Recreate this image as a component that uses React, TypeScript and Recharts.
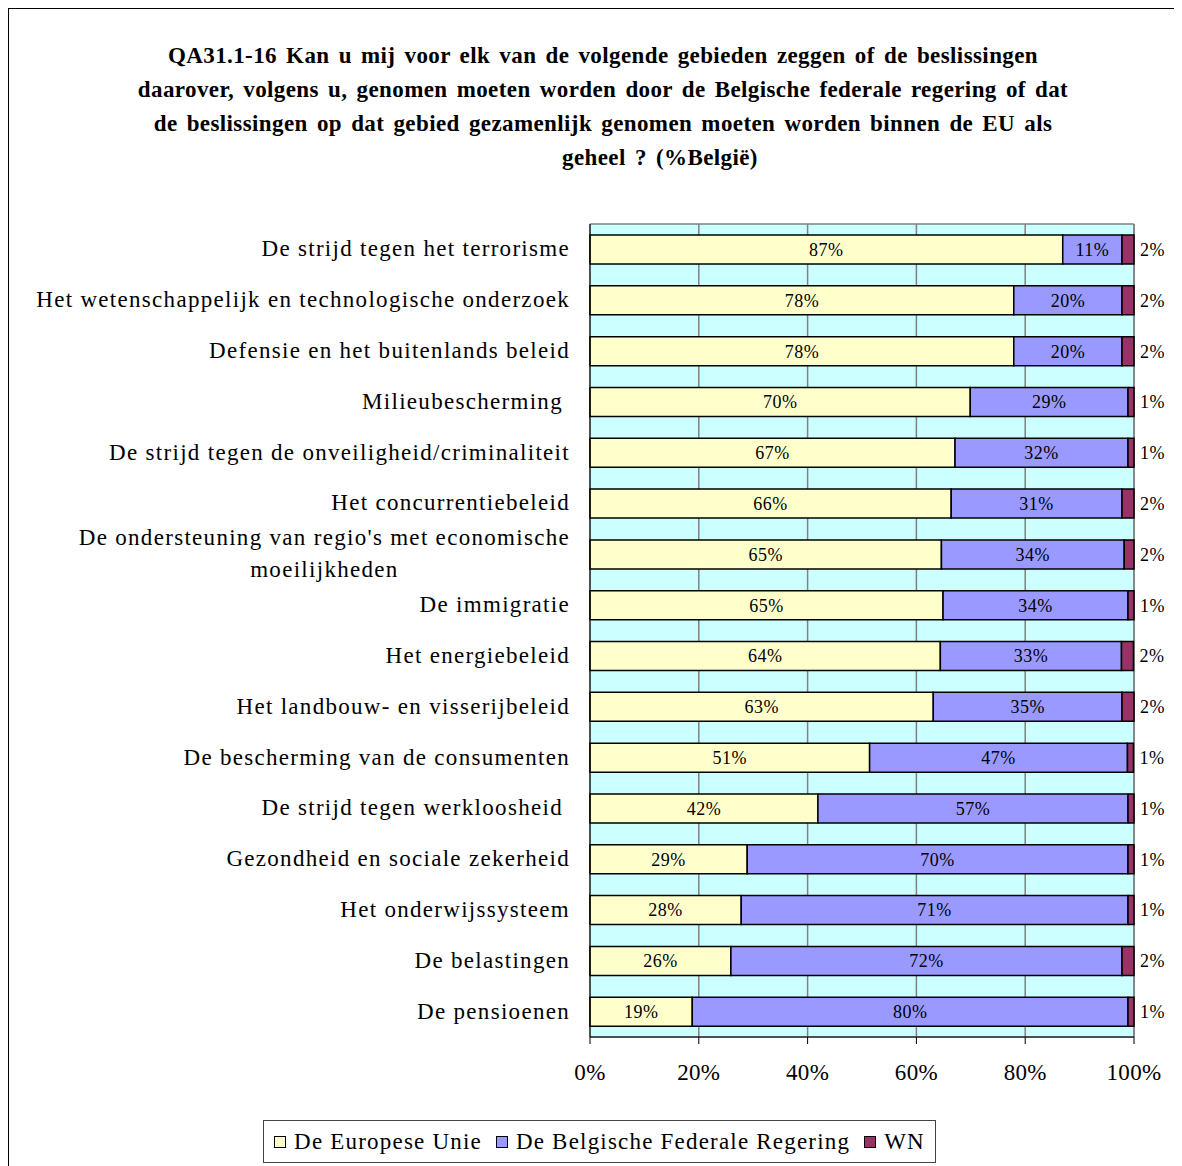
import { Bar, BarChart, CartesianGrid, LabelList, XAxis, YAxis } from "recharts"

const titleLines = [
  "QA31.1-16 Kan u mij voor elk van de volgende gebieden zeggen of de beslissingen",
  "daarover, volgens u, genomen moeten worden door de Belgische federale regering of dat",
  "de beslissingen op dat gebied gezamenlijk genomen moeten worden binnen de EU als",
  "geheel ? (%België)",
]

const categories = [
  "De strijd tegen het terrorisme",
  "Het wetenschappelijk en technologische onderzoek",
  "Defensie en het buitenlands beleid",
  "Milieubescherming ",
  "De strijd tegen de onveiligheid/criminaliteit",
  "Het concurrentiebeleid",
  "De ondersteuning van regio's met economische moeilijkheden",
  "De immigratie",
  "Het energiebeleid",
  "Het landbouw- en visserijbeleid",
  "De bescherming van de consumenten",
  "De strijd tegen werkloosheid ",
  "Gezondheid en sociale zekerheid",
  "Het onderwijssysteem",
  "De belastingen",
  "De pensioenen",
]

const euValues = [86.9, 77.9, 77.9, 69.9, 67.1, 66.4, 64.6, 64.9, 64.4, 63.1, 51.4, 41.9, 28.9, 27.8, 25.9, 18.8]
const beValues = [10.9, 19.9, 19.9, 29.0, 31.8, 31.4, 33.6, 34.0, 33.3, 34.7, 47.4, 57.0, 70.0, 71.1, 71.9, 80.1]
const wnValues = [2.2, 2.2, 2.2, 1.1, 1.1, 2.2, 1.8, 1.1, 2.2, 2.2, 1.1, 1.1, 1.1, 1.1, 2.2, 1.1]

const xTicks = [0, 20, 40, 60, 80, 100]
const seriesNames = ["De Europese Unie", "De Belgische Federale Regering", "WN"]
const seriesKeys = ["eu", "be", "wn"]
const colors = ["#FFFFCC", "#9999FF", "#993366"]

const font = '"Liberation Serif", "Times New Roman", serif'
const catSize = 23
const catSpacing = 1.3

const data = categories.map((name, i) => ({
  name,
  eu: euValues[i],
  be: beValues[i],
  wn: wnValues[i],
}))

const pct = (v: any) => `${Math.round(Number(v))}%`

let ctx: CanvasRenderingContext2D | null = null
function measure(text: string, size: number) {
  if (!ctx) ctx = document.createElement("canvas").getContext("2d")
  if (!ctx) return text.length * size * 0.45
  ctx.font = `${size}px "Liberation Serif"`
  return ctx.measureText(text).width + text.length * catSpacing
}

function wrap(text: string, maxChars: number) {
  if (text.length <= maxChars) return [text]
  const cut = text.lastIndexOf(" ", maxChars)
  return [text.slice(0, cut), text.slice(cut + 1)]
}

function CategoryTick(props: any) {
  const { x, y, payload } = props
  const lines = wrap(payload.value, 50)
  const common = {
    fontSize: catSize,
    fontFamily: font,
    fill: "#000",
    style: { whiteSpace: "pre" as const, letterSpacing: catSpacing },
  }
  if (lines.length === 1) {
    return (
      <text x={x} y={y} dy={7} textAnchor="end" {...common}>
        {lines[0]}
      </text>
    )
  }
  const center = x - measure(lines[0], catSize) / 2
  return (
    <text textAnchor="middle" {...common}>
      {lines.map((l, i) => (
        <tspan key={i} x={center} y={y + 7 + (i - (lines.length - 1) / 2) * 32}>
          {l}
        </tspan>
      ))}
    </text>
  )
}

export default function App() {
  return (
    <div
      style={{
        position: "relative",
        width: 1168,
        height: 1170,
        border: "1px solid #000",
        boxSizing: "border-box",
        fontFamily: font,
        background: "#fff",
      }}
    >
      <div style={{ position: "absolute", top: 30, left: 22, width: 1144, textAlign: "center" }}>
        {titleLines.map((l, i) => (
          <div
            key={i}
            style={{
              fontWeight: "bold",
              fontSize: 23,
              lineHeight: "34px",
              letterSpacing: 0.4,
              wordSpacing: 3,
              whiteSpace: "nowrap",
              paddingLeft: i === titleLines.length - 1 ? 114 : 0,
            }}
          >
            {l}
          </div>
        ))}
      </div>

      <div style={{ position: "absolute", top: 0, left: 0 }}>
        <BarChart
          width={1166}
          height={1120}
          data={data}
          layout="vertical"
          margin={{ top: 215, right: 41, bottom: 52, left: 0 }}
          barSize={29}
        >
          <CartesianGrid
            fill="#CCFFFF"
            stroke="#808080"
            strokeWidth={1.5}
            horizontalCoordinatesGenerator={({ offset }: any) => [offset.top, offset.top + offset.height]}
          />
          <XAxis
            type="number"
            domain={[0, 100]}
            ticks={xTicks}
            tickFormatter={pct}
            stroke="#000"
            tickSize={7}
            tickMargin={20}
            height={40}
            tick={{ fontSize: 23, fontFamily: font, fill: "#000", style: { letterSpacing: 0.3 } }}
          />
          <YAxis
            type="category"
            dataKey="name"
            width={581}
            stroke="#000"
            tickLine={false}
            tickSize={0}
            tickMargin={20}
            interval={0}
            tick={<CategoryTick />}
          />
          {seriesKeys.map((k, i) => (
            <Bar
              key={k}
              dataKey={k}
              name={seriesNames[i]}
              stackId="a"
              fill={colors[i]}
              stroke="#000"
              strokeWidth={1.5}
              isAnimationActive={false}
            >
              <LabelList
                dataKey={k}
                position={k === "wn" ? "right" : "center"}
                offset={6}
                formatter={pct}
                style={{ fontSize: 18, fontFamily: font, fill: "#000", letterSpacing: 0.5 }}
              />
            </Bar>
          ))}
        </BarChart>
      </div>

      <div
        style={{
          position: "absolute",
          top: 1111,
          left: 254,
          width: 673,
          height: 43,
          border: "1px solid #444",
          boxSizing: "border-box",
          display: "flex",
          alignItems: "center",
          justifyContent: "center",
          gap: 14,
          fontSize: 23,
          letterSpacing: 1.2,
        }}
      >
        {seriesNames.map((n, i) => (
          <div key={n} style={{ display: "flex", alignItems: "center", gap: 8 }}>
            <span
              style={{
                width: 12,
                height: 12,
                background: colors[i],
                border: "1.5px solid #000",
                boxSizing: "border-box",
                display: "inline-block",
              }}
            />
            <span>{n}</span>
          </div>
        ))}
      </div>
    </div>
  )
}
